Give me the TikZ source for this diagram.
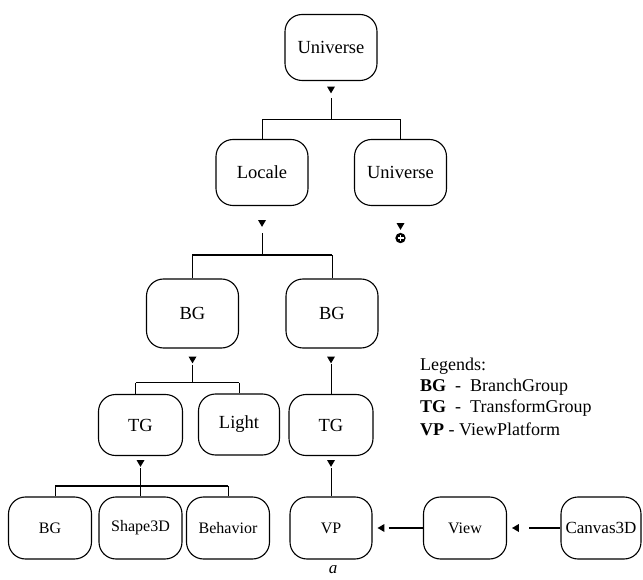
\documentclass[tikz,border=0pt]{standalone}
\usepackage{fontspec}
\setmainfont{Liberation Serif}
\usetikzlibrary{calc}
\tikzset{
  box/.style={draw, line width=1.1pt, rounded corners=17pt, align=center, inner sep=0pt},
  bigbox/.style={box, minimum width=92pt, minimum height=66pt, font=\fontsize{18.5}{20}\selectfont},
  midbox/.style={box, minimum width=83pt, minimum height=61pt, font=\fontsize{18.5}{20}\selectfont},
  lowbox/.style={box, minimum width=83pt, minimum height=62pt, font=\fontsize{16}{18}\selectfont},
  thin/.style={line width=0.9pt},
  thick line/.style={line width=1.7pt},
  legend/.style={anchor=west, inner sep=0pt, font=\fontsize{18}{20}\selectfont}
}
% small filled triangle pointing down, top edge centred at the given point
\newcommand\downtri[1]{\fill #1 +(-4,0) -- +(4,0) -- +(0,6.8) -- cycle;}
% small filled triangle pointing left, tip at the given point
\newcommand\lefttri[1]{\fill #1 -- +(6.8,-4) -- +(6.8,4) -- cycle;}
\begin{document}
\begin{tikzpicture}[x=1pt, y=-1pt]
\useasboundingbox (0,0) rectangle (643,580);

% nodes
\node[bigbox] (u1) at (331,47.5) {Universe};
\node[bigbox] (loc) at (262,172.5) {Locale};
\node[bigbox] (u2) at (400.5,172.5) {Universe};
\node[bigbox, minimum height=69pt] (bg1) at (192.5,313.5) {BG};
\node[bigbox, minimum height=69pt] (bg2) at (332,313.5) {BG};
\node[midbox, minimum width=84pt] (tg1) at (140.5,425) {TG};
\node[midbox, minimum width=81pt] (light) at (239,424.5) {Light};
\node[midbox, minimum width=84pt] (tg2) at (331,425) {TG};
\node[lowbox] (bg3) at (50,528) {BG};
\node[lowbox] (shape) at (140.5,528) {Shape3D};
\node[lowbox] (behav) at (228,528) {Behavior};
\node[lowbox, minimum width=82pt] (vp) at (331,528) {VP};
\node[lowbox] (view) at (465,528) {View};
\node[lowbox, minimum width=80pt, font=\fontsize{17}{19}\selectfont] (canvas) at (601,528) {Canvas3D};

% Universe -> Locale, Universe
\downtri{($(u1.south)+(0,5.5)$)}
\coordinate (j1) at ($(u1.south)+(0,38)$);
\draw[thin] ($(u1.south)+(0,17)$) -- (j1);
\draw[thin] (loc.north) |- (j1) -| (u2.north);

% Locale -> BG, BG
\downtri{($(loc.south)+(0,14)$)}
\coordinate (j2) at ($(loc.south)+(0,49)$);
\draw[thin] ($(loc.south)+(0,27)$) -- (j2);
\draw[thick line] (bg1.north) |- (j2) -- (bg2.north |- j2);
\draw[thin] (bg2.north) -- (bg2.north |- j2);

% Universe (sub-universe) marker
\downtri{($(u2.south)+(0,17)$)}
\coordinate (plus) at ($(u2.south)+(0,32)$);
\fill (plus) circle (5.2pt);
\draw[white, line width=1.3pt] ($(plus)+(-3,0)$) -- ($(plus)+(3,0)$) ($(plus)+(0,-3)$) -- ($(plus)+(0,3)$);

% BG -> TG, Light
\downtri{($(bg1.south)+(0,8)$)}
\coordinate (j3) at ($(bg1.south)+(0,34)$);
\draw[thick line] ($(bg1.south)+(0,16)$) -- (j3);
\draw[thick line] ($(tg1.north |- j3)+(-5,0)$) -- (light.north |- j3);
\draw[thin] ($(tg1.north)+(-5,0)$) -- ($(tg1.north |- j3)+(-5,0)$);
\draw[thin] (light.north) -- (light.north |- j3);

% BG -> TG (right branch)
\downtri{($(bg2.south)+(-1,8)$)}
\draw[thin] ($(tg2.north)+(0,-30)$) -- (tg2.north);

% TG -> BG, Shape3D, Behavior
\downtri{($(tg1.south)+(0,4)$)}
\coordinate (j4) at ($(tg1.south)+(0,30)$);
\draw[thick line] ($(tg1.south)+(0,12)$) -- (j4);
\draw[thick line] ($(bg3.north |- j4)+(5,0)$) -- (behav.north |- j4);
\draw[thin] ($(bg3.north)+(5,0)$) -- ($(bg3.north |- j4)+(5,0)$);
\draw[thin] (shape.north) -- (j4);
\draw[thin] (behav.north) -- (behav.north |- j4);

% TG -> VP
\downtri{($(tg2.south)+(0,4)$)}
\draw[thin] ($(tg2.south)+(0,12)$) -- (vp.north);

% Canvas3D -> View -> VP
\lefttri{($(vp.east)+(5,0)$)}
\draw[thick line] ($(vp.east)+(16,0)$) -- (view.west);
\lefttri{($(view.east)+(5,0)$)}
\draw[thick line] ($(view.east)+(22,0)$) -- (canvas.west);

% legend
\node[legend] (lg0) at (420,366) {Legends:};
\node[legend] (lg1) at (420,387) {\textbf{BG}\ \ -\ \ BranchGroup};
\node[legend] (lg2) at (420,408) {\textbf{TG}\ \ -\ \ TransformGroup};
\node[legend] (lg3) at (420,429) {\textbf{VP} - ViewPlatform};

% caption
\node[font=\fontsize{17}{19}\selectfont\itshape] (cap) at (333,570) {a};
\end{tikzpicture}
\end{document}
